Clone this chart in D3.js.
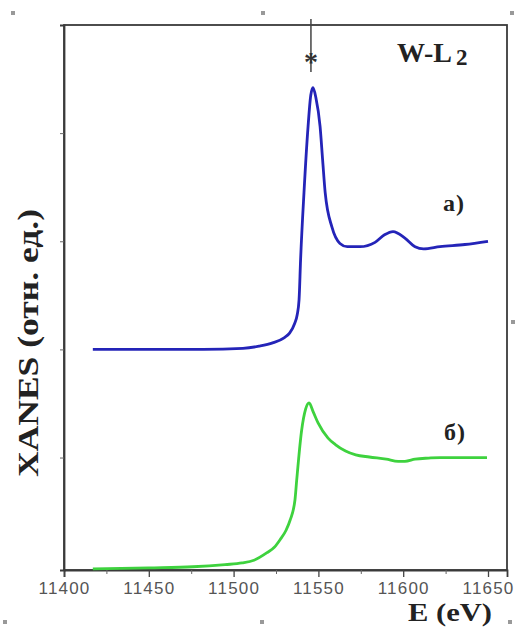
<!DOCTYPE html>
<html>
<head>
<meta charset="utf-8">
<script src="https://cdn.jsdelivr.net/npm/d3@7"></script>
<style>
  html, body { margin: 0; padding: 0; background: #fff; }
  svg { display: block; }
</style>
</head>
<body>
<script>
// ---- data ----
const xTicks = [11400, 11450, 11500, 11550, 11600, 11650];
const xMinorTicks = [11425, 11475, 11525, 11575, 11625];
const yTicks = [1, 2, 3, 4];

const energyA = [11417, 11440, 11460, 11482, 11505.5, 11515, 11523, 11530, 11533, 11536, 11537.5, 11538.6, 11539.5, 11541.5, 11543.9, 11545.5, 11546.8, 11548.5, 11551, 11552.5, 11554, 11558, 11562.7, 11567, 11574.5, 11583.4, 11589, 11594, 11601, 11607, 11612, 11621.7, 11636.4, 11650];
const xanesA  = [2.0, 2.0, 2.0, 2.0, 2.01, 2.03, 2.06, 2.11, 2.15, 2.24, 2.32, 2.46, 2.83, 3.45, 4.06, 4.35, 4.42, 4.33, 4.06, 3.75, 3.45, 3.13, 2.98, 2.95, 2.95, 2.99, 3.06, 3.09, 3.03, 2.95, 2.93, 2.95, 2.97, 3.0];

const energyB = [11417, 11450, 11476, 11495, 11505, 11512, 11519.7, 11524, 11527.4, 11531, 11533.3, 11536.2, 11537.2, 11540.1, 11542.5, 11544.5, 11547, 11549.8, 11555.7, 11560, 11566, 11572, 11580, 11590, 11597, 11601, 11607, 11615, 11621.7, 11635, 11649.4];
const xanesB  = [-0.03, -0.02, -0.01, 0.01, 0.025, 0.05, 0.12, 0.17, 0.24, 0.33, 0.42, 0.61, 0.79, 1.25, 1.45, 1.505, 1.42, 1.32, 1.18, 1.12, 1.06, 1.025, 1.005, 0.985, 0.965, 0.965, 0.985, 0.995, 1.0, 1.0, 1.0];

const markerEnergy = 11545.6;

// ---- layout ----
const W = 519, H = 627;
const mLeft = 64, mRight = 507, mTop = 25, mBottom = 570;

const svg = d3.select("body").append("svg").attr("width", W).attr("height", H);

const x = d3.scaleLinear().domain([11400, 11400 + (mRight - mLeft) / 1.696]).range([mLeft, mRight]);
const y = d3.scaleLinear().domain([-0.04, 5.0]).range([mBottom, mTop]);

// faint selection-handle marks of the original picture
const handles = [[13, 13], [263, 13], [512, 13], [513, 322], [5, 622], [262, 622], [510, 622]];
svg.selectAll("rect.h").data(handles).enter().append("rect")
  .attr("x", d => d[0] - 2).attr("y", d => d[1] - 2).attr("width", 4).attr("height", 4)
  .attr("fill", "#999");

// frame
svg.append("rect").attr("x", mLeft).attr("y", mTop).attr("width", mRight - mLeft).attr("height", mBottom - mTop)
  .attr("fill", "none").attr("stroke", "#3a3a3a").attr("stroke-width", 1.8);

// x axis
const xAxis = d3.axisBottom(x).tickValues(xTicks).tickSize(7).tickFormat(d3.format("d"));
const gx = svg.append("g").attr("transform", `translate(0,${mBottom})`).call(xAxis);
gx.select(".domain").attr("stroke", "#3a3a3a").attr("stroke-width", 1.8);
gx.selectAll(".tick line").attr("stroke", "#444").attr("stroke-width", 1.3);
gx.selectAll(".tick text").attr("font-family", "Liberation Sans, Arial, sans-serif")
  .attr("font-size", 17).attr("fill", "#555").attr("dy", "0.85em").attr("letter-spacing", 1.2);

const gxm = svg.append("g").attr("transform", `translate(0,${mBottom})`)
  .call(d3.axisBottom(x).tickValues(xMinorTicks).tickSize(4).tickFormat(""));
gxm.select(".domain").remove();
gxm.selectAll(".tick line").attr("stroke", "#666");

// y axis (ticks without labels)
const gy = svg.append("g").attr("transform", `translate(${mLeft},0)`)
  .call(d3.axisLeft(y).tickValues(yTicks).tickSize(4).tickFormat(""));
gy.select(".domain").attr("stroke", "#3a3a3a").attr("stroke-width", 1.8);
gy.selectAll(".tick line").attr("stroke", "#666");

// curves
const line = d3.line().x(d => x(d[0])).y(d => y(d[1])).curve(d3.curveMonotoneX);
svg.append("path").datum(d3.zip(energyA, xanesA)).attr("d", line)
  .attr("fill", "none").attr("stroke", "#2424b8").attr("stroke-width", 2.8).attr("stroke-linejoin", "round");
svg.append("path").datum(d3.zip(energyB, xanesB)).attr("d", line)
  .attr("fill", "none").attr("stroke", "#3ed23e").attr("stroke-width", 2.8).attr("stroke-linejoin", "round");

// marker line with star
const mx = x(markerEnergy);
svg.append("line").attr("x1", mx).attr("x2", mx).attr("y1", 19).attr("y2", 72)
  .attr("stroke", "#444").attr("stroke-width", 1.5);
svg.append("text").attr("x", mx).attr("y", 71).attr("text-anchor", "middle")
  .attr("font-family", "Liberation Serif, serif").attr("font-weight", "bold").attr("font-size", 28)
  .attr("fill", "#333").text("*");

// labels
const serif = "Liberation Serif, Times New Roman, serif";
const wl = svg.append("text").attr("x", 397).attr("y", 62).attr("font-family", serif)
  .attr("font-weight", "bold").attr("font-size", 28).attr("fill", "#222");
wl.append("tspan").text("W-L");
wl.append("tspan").attr("dx", 4).attr("dy", 3).attr("font-size", 23).text("2");

svg.append("text").attr("x", 443).attr("y", 211).attr("font-family", serif)
  .attr("font-weight", "bold").attr("font-size", 24).attr("fill", "#222")
  .attr("letter-spacing", 1).text("а)");
svg.append("text").attr("x", 444).attr("y", 440).attr("font-family", serif)
  .attr("font-weight", "bold").attr("font-size", 24).attr("fill", "#222")
  .attr("letter-spacing", 1).text("б)");

svg.append("text").attr("transform", "translate(38,343) rotate(-90)").attr("text-anchor", "middle")
  .attr("font-family", serif).attr("font-weight", "bold").attr("font-size", 29).attr("fill", "#222")
  .attr("textLength", 268).attr("lengthAdjust", "spacingAndGlyphs")
  .text("XANES (отн. ед.)");

svg.append("text").attr("x", 450).attr("y", 621).attr("text-anchor", "middle")
  .attr("font-family", serif).attr("font-weight", "bold").attr("font-size", 25).attr("fill", "#222")
  .attr("textLength", 84).attr("lengthAdjust", "spacingAndGlyphs")
  .text("E (eV)");
</script>
</body>
</html>
